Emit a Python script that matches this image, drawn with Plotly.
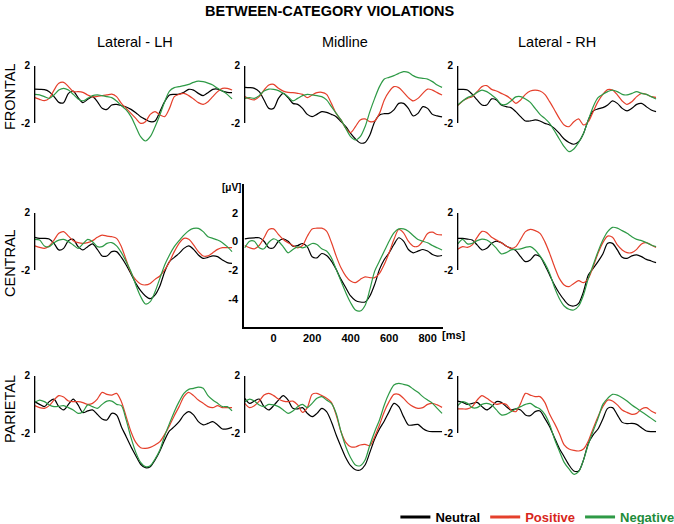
import plotly.graph_objects as go
from plotly.subplots import make_subplots

# ---- data: ERP amplitudes (µV) sampled every 25 ms, -150 .. 875 ms ----
TIME_MS = list(range(-150, 900, 25))

REGIONS = ["FRONTAL", "CENTRAL", "PARIETAL"]
SITES = ["Lateral - LH", "Midline", "Lateral - RH"]
CONDITIONS = ["Neutral", "Positive", "Negative"]

F_LH_NEU = [0.38, 0.36, 0.34, 0.20, -0.15, -0.55, -0.57, 0.08, 0.24, -0.22, -0.57, -0.34, -0.15, -0.50, -0.97, -1.04, -0.73, -0.69, -0.78, -0.87, -1.04, -1.27, -1.55, -1.74, -1.90, -1.85, -1.20, -0.50, -0.03, 0.01, 0.03, 0.15, 0.36, 0.31, 0.08, -0.08, 0.13, 0.36, 0.38, 0.24, 0.15, 0.13]
F_LH_POS = [-0.22, -0.34, -0.43, -0.27, 0.31, 0.78, 0.85, 0.55, 0.20, 0.20, 0.15, -0.03, -0.17, -0.13, -0.08, -0.03, 0.03, -0.15, -0.62, -0.97, -1.32, -1.67, -2.02, -1.90, -1.39, -1.20, -1.43, -1.55, -0.97, -0.15, 0.01, 0.08, -0.08, -0.31, -0.57, -0.69, -0.50, -0.15, 0.20, 0.43, 0.43, 0.31]
F_LH_NEG = [0.01, -0.03, -0.15, -0.27, -0.03, 0.31, 0.43, 0.31, 0.01, -0.31, -0.45, -0.27, -0.08, -0.03, -0.08, -0.15, -0.22, -0.45, -0.78, -1.08, -1.55, -2.25, -2.95, -3.25, -2.95, -2.25, -1.43, -0.50, 0.24, 0.48, 0.55, 0.62, 0.71, 0.85, 0.94, 0.90, 0.80, 0.66, 0.43, 0.24, 0.01, -0.31]

F_MID_NEU = [0.50, 0.48, 0.43, 0.20, -0.38, -0.97, -0.97, -0.27, 0.08, -0.22, -0.62, -0.69, -0.97, -1.39, -1.55, -1.39, -1.20, -1.25, -1.39, -1.55, -1.90, -2.25, -2.72, -3.11, -3.39, -3.35, -2.83, -1.90, -1.43, -1.34, -1.32, -1.08, -0.62, -0.62, -0.97, -1.50, -1.32, -0.85, -0.97, -1.39, -1.50, -1.57]
F_MID_POS = [-0.15, -0.31, -0.38, -0.15, 0.31, 0.66, 0.71, 0.43, 0.24, 0.15, 0.13, 0.08, 0.01, -0.22, -0.03, 0.13, 0.15, 0.01, -0.62, -1.32, -1.78, -2.37, -2.67, -2.25, -1.78, -1.71, -1.90, -1.85, -1.32, -0.38, 0.20, 0.55, 0.48, 0.15, -0.22, -0.45, -0.27, 0.08, 0.38, 0.31, 0.13, -0.03]
F_MID_NEG = [-0.27, -0.22, -0.27, -0.08, 0.24, 0.38, 0.36, 0.27, 0.08, -0.15, -0.45, -0.27, -0.08, 0.01, -0.03, -0.08, -0.15, -0.38, -0.85, -1.32, -1.78, -2.37, -2.95, -3.18, -2.95, -2.25, -1.20, -0.27, 0.55, 1.08, 1.20, 1.32, 1.48, 1.60, 1.55, 1.32, 1.18, 1.13, 1.08, 0.90, 0.66, 0.50]

F_RH_NEU = [0.36, 0.36, 0.31, 0.01, -0.38, -0.73, -0.73, -0.31, -0.38, -0.73, -0.85, -0.92, -1.20, -1.55, -1.85, -1.85, -1.78, -1.85, -2.02, -2.13, -2.37, -2.72, -3.11, -3.35, -3.48, -3.30, -2.72, -1.78, -1.15, -1.01, -0.92, -0.73, -0.45, -0.62, -0.97, -1.15, -0.97, -0.69, -0.62, -0.85, -1.08, -1.20]
F_RH_POS = [-0.78, -0.45, -0.27, -0.15, 0.20, 0.55, 0.62, 0.36, 0.24, 0.08, -0.08, -0.31, -0.62, -0.38, 0.01, 0.24, 0.31, 0.24, 0.01, -0.50, -1.08, -1.67, -2.13, -2.25, -1.90, -1.71, -2.13, -1.90, -1.20, -0.50, 0.01, 0.34, 0.31, -0.03, -0.45, -0.69, -0.50, -0.15, 0.08, 0.01, -0.15, -0.20]
F_RH_NEG = [-0.73, -0.45, -0.22, -0.08, 0.15, 0.31, 0.20, -0.03, -0.31, -0.69, -0.69, -0.45, -0.17, -0.15, -0.31, -0.55, -0.97, -1.39, -1.67, -2.02, -2.55, -3.11, -3.65, -4.00, -3.81, -3.35, -2.72, -1.78, -0.85, -0.22, 0.01, 0.20, 0.31, 0.20, 0.01, -0.03, 0.08, 0.20, 0.08, 0.01, -0.15, -0.31]

C_LH_NEU = [0.29, 0.22, 0.22, 0.17, -0.13, -0.59, -0.48, 0.06, 0.15, -0.36, -0.59, -0.36, -0.17, -0.55, -1.01, -1.01, -0.71, -0.71, -1.11, -1.64, -2.27, -2.93, -3.44, -3.81, -4.00, -3.74, -3.11, -2.11, -1.41, -1.11, -0.83, -0.48, -0.31, -0.55, -0.94, -1.18, -1.11, -1.01, -1.06, -1.29, -1.48, -1.53]
C_LH_POS = [-0.31, -0.41, -0.48, -0.31, 0.10, 0.57, 0.69, 0.38, 0.06, -0.08, -0.13, -0.08, 0.06, 0.29, 0.45, 0.38, 0.34, 0.22, -0.36, -1.29, -2.18, -2.69, -2.97, -3.04, -2.93, -2.65, -2.41, -1.99, -1.41, -0.71, -0.13, 0.22, 0.15, -0.24, -0.71, -1.01, -1.01, -0.78, -0.55, -0.43, -0.43, -0.43]
C_LH_NEG = [0.15, 0.10, -0.31, -0.36, -0.08, 0.10, 0.15, -0.01, -0.24, -0.48, -0.17, 0.15, -0.01, -0.36, -0.36, -0.13, -0.08, -0.31, -0.78, -1.41, -2.11, -3.04, -3.85, -4.37, -4.21, -3.51, -2.58, -1.64, -0.94, -0.36, 0.06, 0.45, 0.76, 0.92, 0.92, 0.69, 0.34, 0.22, 0.10, -0.08, -0.36, -0.71]

C_MID_NEU = [0.19, 0.23, 0.26, 0.26, 0.02, -0.44, -0.44, 0.02, 0.19, 0.02, -0.33, -0.28, -0.14, -0.37, -1.07, -1.14, -0.84, -0.98, -1.37, -1.95, -2.65, -3.23, -3.81, -4.12, -4.23, -4.23, -3.81, -3.00, -1.95, -1.26, -0.79, -0.21, 0.26, 0.02, -0.56, -0.79, -0.67, -0.56, -0.67, -0.91, -1.02, -0.98]
C_MID_POS = [-0.28, -0.44, -0.51, -0.28, 0.26, 0.84, 0.88, 0.49, 0.14, -0.09, -0.28, -0.44, -0.28, 0.37, 0.88, 0.93, 0.93, 0.72, -0.05, -1.02, -1.84, -2.42, -2.77, -2.88, -2.65, -2.47, -2.53, -2.53, -2.23, -1.60, -0.79, 0.14, 0.84, 0.60, 0.02, -0.33, -0.33, 0.02, 0.56, 0.65, 0.49, 0.47]
C_MID_NEG = [-0.44, 0.02, 0.02, -0.44, -0.51, -0.05, 0.19, 0.02, -0.37, -0.79, -0.56, -0.37, -0.44, -0.33, -0.14, -0.21, -0.51, -0.67, -1.14, -1.95, -2.77, -3.58, -4.28, -4.79, -4.86, -4.47, -3.35, -2.07, -1.37, -0.67, 0.02, 0.60, 0.88, 0.88, 0.72, 0.42, 0.14, 0.02, -0.09, -0.28, -0.44, -0.60]

C_RH_NEU = [0.22, 0.22, 0.17, 0.10, -0.24, -0.59, -0.48, -0.13, 0.03, -0.08, -0.31, -0.48, -0.64, -1.06, -1.41, -1.29, -0.94, -1.06, -1.64, -2.34, -3.04, -3.62, -4.09, -4.44, -4.51, -4.32, -3.51, -2.34, -1.88, -1.41, -0.87, -0.13, -0.13, -0.59, -1.11, -1.18, -1.01, -0.94, -1.06, -1.25, -1.36, -1.48]
C_RH_POS = [-0.55, -0.36, -0.41, -0.24, 0.29, 0.71, 0.62, 0.29, 0.10, -0.08, -0.31, -0.48, -0.36, 0.15, 0.69, 0.85, 0.76, 0.57, -0.01, -0.83, -1.76, -2.58, -3.04, -3.16, -2.93, -2.74, -2.88, -2.58, -1.76, -0.83, -0.08, 0.38, 0.29, -0.24, -0.59, -0.78, -0.78, -0.55, -0.17, -0.08, -0.24, -0.41]
C_RH_NEG = [-0.17, 0.15, -0.17, -0.13, 0.06, 0.17, 0.10, -0.13, -0.48, -0.87, -0.78, -0.59, -0.55, -0.52, -0.41, -0.36, -0.59, -1.01, -1.53, -2.23, -3.21, -3.98, -4.51, -4.74, -4.79, -4.51, -3.74, -2.58, -1.64, -0.71, 0.10, 0.69, 0.99, 0.94, 0.76, 0.57, 0.34, 0.15, 0.06, -0.08, -0.24, -0.36]

P_LH_NEU = [0.20, 0.01, -0.15, 0.20, 0.38, -0.15, -0.38, 0.01, 0.38, -0.03, -0.57, -0.45, -0.38, -0.69, -1.01, -1.08, -0.62, -0.73, -1.55, -2.25, -2.95, -3.58, -4.18, -4.42, -4.35, -3.88, -3.25, -2.48, -1.85, -1.55, -1.20, -0.73, -0.50, -0.73, -1.20, -1.43, -1.32, -1.20, -1.43, -1.71, -1.71, -1.60]
P_LH_POS = [-0.08, -0.22, -0.27, -0.08, 0.31, 0.62, 0.52, 0.24, 0.20, 0.20, 0.13, 0.01, 0.08, 0.38, 0.85, 0.71, 0.66, 0.78, 0.20, -0.85, -1.90, -2.65, -3.02, -3.07, -3.00, -2.83, -2.60, -2.09, -1.48, -0.78, -0.15, 0.55, 0.85, 0.62, 0.31, 0.08, -0.15, -0.22, -0.08, -0.22, -0.22, -0.22]
P_LH_NEG = [0.15, 0.31, 0.20, -0.03, -0.15, -0.13, -0.08, -0.22, -0.38, -0.62, -0.50, -0.03, -0.15, -0.27, 0.01, 0.24, 0.24, 0.01, -0.08, -1.08, -2.32, -3.35, -4.05, -4.35, -4.28, -3.81, -3.18, -2.18, -1.32, -0.50, 0.20, 0.78, 1.06, 1.13, 1.22, 1.13, 0.62, 0.31, 0.08, -0.15, -0.15, -0.45]

P_MID_NEU = [0.43, 0.08, 0.24, 0.38, -0.15, -0.38, -0.08, 0.31, 0.62, 0.31, -0.27, -0.31, -0.22, -0.62, -0.85, -0.62, -0.27, -0.50, -1.20, -2.13, -2.95, -3.72, -4.28, -4.56, -4.58, -4.23, -3.35, -2.41, -1.71, -1.15, -0.50, 0.08, -0.15, -0.85, -1.43, -1.43, -1.39, -1.67, -1.85, -1.90, -1.90, -1.90]
P_MID_POS = [0.08, -0.22, -0.08, 0.24, 0.66, 0.78, 0.62, 0.38, 0.24, 0.20, 0.24, -0.03, -0.55, -0.22, 0.71, 0.78, 0.62, 0.43, 0.15, -0.73, -1.90, -2.65, -2.95, -2.97, -2.83, -2.79, -2.88, -2.25, -1.43, -0.50, 0.20, 0.71, 0.71, 0.43, 0.08, -0.15, -0.27, -0.22, 0.01, 0.08, -0.03, -0.20]
P_MID_NEG = [0.20, 0.38, 0.24, -0.03, -0.15, 0.01, -0.03, -0.15, -0.38, -0.62, -0.45, -0.15, 0.01, -0.22, 0.08, 0.43, 0.55, 0.31, 0.08, -0.62, -1.90, -2.95, -3.72, -4.23, -4.28, -3.88, -2.83, -1.90, -1.08, -0.03, 0.78, 1.36, 1.48, 1.41, 1.32, 1.08, 0.85, 0.55, 0.31, 0.08, -0.27, -0.62]

P_RH_NEU = [0.24, 0.15, 0.01, 0.08, 0.15, -0.15, -0.38, -0.15, 0.20, 0.15, -0.15, -0.38, -0.31, -0.38, -0.73, -0.78, -0.50, -0.45, -0.97, -1.55, -2.32, -3.07, -3.65, -4.23, -4.65, -4.65, -3.88, -2.72, -2.13, -1.71, -1.01, -0.27, -0.22, -0.73, -1.25, -1.34, -1.32, -1.39, -1.62, -1.85, -1.90, -1.90]
P_RH_POS = [-0.31, -0.31, -0.31, -0.15, 0.31, 0.62, 0.43, 0.20, 0.01, 0.08, 0.01, -0.38, -0.50, 0.08, 0.78, 0.66, 0.55, 0.55, 0.15, -0.69, -1.32, -2.02, -2.83, -3.11, -3.21, -3.25, -3.11, -2.55, -1.67, -0.85, -0.15, 0.31, 0.24, -0.03, -0.38, -0.55, -0.69, -0.62, -0.31, -0.22, -0.45, -0.62]
P_RH_NEG = [-0.08, 0.20, 0.08, -0.22, -0.22, 0.01, 0.08, -0.03, -0.38, -0.73, -0.69, -0.50, -0.31, -0.15, 0.01, 0.08, -0.15, -0.31, -0.69, -1.39, -2.41, -3.25, -4.05, -4.51, -4.88, -4.70, -3.88, -2.79, -1.85, -0.97, 0.01, 0.43, 0.71, 0.66, 0.48, 0.24, -0.03, -0.27, -0.50, -0.73, -0.97, -1.21]

PANELS = [
    [(F_LH_NEU, F_LH_POS, F_LH_NEG), (F_MID_NEU, F_MID_POS, F_MID_NEG), (F_RH_NEU, F_RH_POS, F_RH_NEG)],
    [(C_LH_NEU, C_LH_POS, C_LH_NEG), (C_MID_NEU, C_MID_POS, C_MID_NEG), (C_RH_NEU, C_RH_POS, C_RH_NEG)],
    [(P_LH_NEU, P_LH_POS, P_LH_NEG), (P_MID_NEU, P_MID_POS, P_MID_NEG), (P_RH_NEU, P_RH_POS, P_RH_NEG)],
]

# ---- style ----
W, H = 674, 524
FONT = "Liberation Sans, Arial, Helvetica, sans-serif"
LINE_COLORS = ["#000000", "#e5402c", "#2e9a46"]
TEXT_COLORS = ["#000000", "#d8261c", "#1e8c3a"]

X_RANGE = [-154, 880]
Y_RANGE = [-6, 4]
COL_PX = [(34, 233), (244, 443), (457, 657)]   # left/right edge of each column (px)
ROW_ZERO_PX = [94.5, 241.5, 404.5]              # px row of 0 µV
PX_PER_UV = 14.3


def fx(px):
    return px / W


def fy(py):
    return 1 - py / H


fig = make_subplots(rows=3, cols=3)

for r in range(3):
    for c in range(3):
        for k, series in enumerate(PANELS[r][c]):
            assert len(series) == len(TIME_MS)
            fig.add_trace(go.Scatter(
                x=TIME_MS, y=series, mode="lines",
                line=dict(color=LINE_COLORS[k], width=1.2, shape="spline", smoothing=0.8),
                showlegend=False, hoverinfo="skip",
            ), row=r + 1, col=c + 1)

# legend entries (thick line samples)
for k, cond in enumerate(CONDITIONS):
    fig.add_trace(go.Scatter(
        x=[None], y=[None], mode="lines",
        line=dict(color=LINE_COLORS[k], width=3),
        name=f"<b><span style='color:{TEXT_COLORS[k]}'>{cond}</span></b>",
    ), row=1, col=1)

shapes = []
for r in range(3):
    top = ROW_ZERO_PX[r] - Y_RANGE[1] * PX_PER_UV
    bot = ROW_ZERO_PX[r] - Y_RANGE[0] * PX_PER_UV
    for c in range(3):
        n = r * 3 + c + 1
        sfx = "" if n == 1 else str(n)
        x0, x1 = COL_PX[c]
        center = (r == 1 and c == 1)
        yt = [-4, -2, 0, 2] if center else [-2, 2]
        xa = dict(domain=[fx(x0), fx(x1)], range=X_RANGE, showgrid=False, zeroline=False,
                  showline=center, linecolor="black", linewidth=1.5, ticks="",
                  showticklabels=center, tickvals=[0, 200, 400, 600, 800],
                  ticktext=[f"<b>{v}</b>" for v in [0, 200, 400, 600, 800]],
                  ticklabelstandoff=0,
                  tickfont=dict(size=11, color="black"))
        ya = dict(domain=[fy(bot), fy(top)], range=Y_RANGE, showgrid=False, zeroline=False,
                  showline=center, linecolor="black", linewidth=1.5, ticks="",
                  tickvals=yt, ticktext=[f"<b>{v}</b>" for v in yt],
                  ticklabelstandoff=3 if not center else 2,
                  tickfont=dict(size=11 if center else 10, color="black"))
        fig.update_layout({f"xaxis{sfx}": xa, f"yaxis{sfx}": ya})
        if not center:
            shapes.append(dict(type="line", xref=f"x{sfx}", yref=f"y{sfx}",
                               x0=-151, x1=-151, y0=-2, y1=2, layer="above",
                               line=dict(color="black", width=1.5)))

annotations = [
    dict(text="<b>BETWEEN-CATEGORY VIOLATIONS</b>", x=fx(330), y=fy(11),
         xref="paper", yref="paper", xanchor="center", yanchor="middle",
         showarrow=False, font=dict(size=14.5)),
]
for c, site in enumerate(SITES):
    annotations.append(dict(text=site, x=fx([135, 345, 557][c]), y=fy(42),
                            xref="paper", yref="paper", xanchor="center", yanchor="middle",
                            showarrow=False, font=dict(size=14.5)))
for r, region in enumerate(REGIONS):
    annotations.append(dict(text=region, x=fx(10), y=fy([97, 263, 409][r]),
                            xref="paper", yref="paper", xanchor="center", yanchor="middle",
                            showarrow=False, textangle=-90, font=dict(size=14.5)))
annotations.append(dict(text="<b>[μV]</b>", x=0, y=1, xref="x5 domain", yref="y5 domain",
                        xanchor="right", yanchor="middle", xshift=-1, yshift=-3,
                        showarrow=False, font=dict(size=10)))
annotations.append(dict(text="<b>[ms]</b>", x=1, y=0, xref="x5 domain", yref="y5 domain",
                        xanchor="left", yanchor="top", xshift=-3, yshift=0, showarrow=False,
                        font=dict(size=11)))

fig.update_layout(
    width=W, height=H,
    margin=dict(l=0, r=0, t=0, b=0, autoexpand=False),
    paper_bgcolor="white", plot_bgcolor="white",
    font=dict(family=FONT, color="black"),
    shapes=shapes, annotations=annotations,
    showlegend=True,
    legend=dict(orientation="h", x=1.008, xanchor="right", y=fy(517), yanchor="middle",
                font=dict(size=13), itemwidth=30, bgcolor="rgba(0,0,0,0)"),
)

# drop the page's default 8px body margin so the figure sits at the window origin
fig.write_html("out.html", config={"displayModeBar": False},
               post_script="document.body.style.margin='0';")
